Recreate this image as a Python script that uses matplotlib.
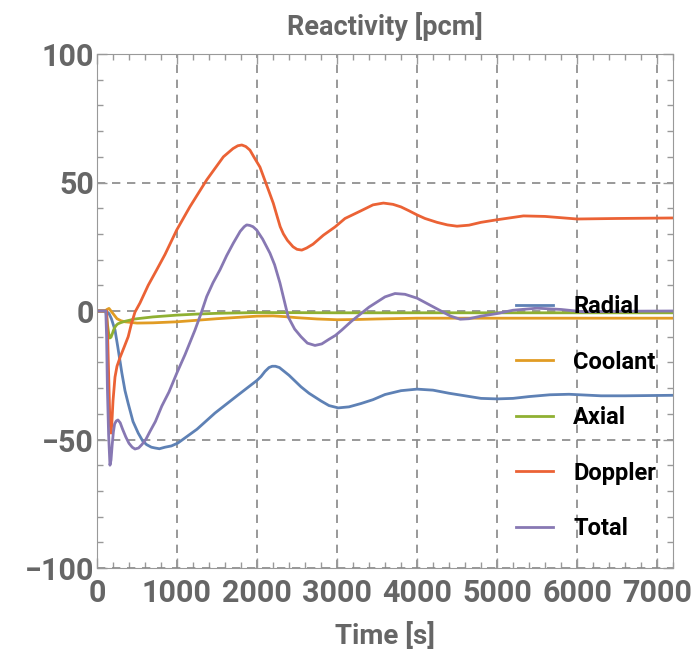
import numpy as np
import matplotlib.pyplot as plt
from matplotlib.ticker import MultipleLocator

# values (time in s, reactivity in pcm)
t_radial = [0, 100, 125, 150, 180, 225, 260, 310, 350, 390, 450, 515, 570, 620, 680, 725, 780,
            850, 930, 1010, 1250, 1475, 1750, 2000, 2050, 2100, 2150, 2190, 2230, 2280, 2320,
            2400, 2450, 2550, 2650, 2800, 2900, 3015, 3150, 3300, 3450, 3600, 3800, 4000,
            4200, 4400, 4600, 4800, 5000, 5200, 5400, 5660, 5900, 6300, 6600, 7200]
radial = [0, 0, -0.3, -1, -3, -7.4, -14, -24, -31, -36, -43, -47.5, -50.5, -52, -53, -53.3, -53.6,
          -53, -52.5, -51.4, -46, -39.7, -33, -27, -25.5, -23.5, -22, -21.5, -21.5, -22, -23,
          -25, -26.5, -29.5, -32, -35, -36.8, -37.7, -37.3, -36, -34.5, -32.5, -31, -30.4,
          -30.8, -32, -33, -34, -34.2, -34, -33.3, -32.6, -32.4, -33, -33, -32.8]

t_coolant = [0, 100, 125, 150, 175, 200, 250, 300, 350, 500, 700, 1000, 1250, 1500, 1750,
             2000, 2200, 2350, 2500, 2750, 3000, 3250, 3500, 4000, 5000, 6000, 7200]
coolant = [0, 0, 0.6, 1, 0, -1, -3, -3.8, -4.2, -4.7, -4.6, -4.2, -3.6, -3, -2.5,
           -2, -1.9, -2.2, -2.6, -3.1, -3.4, -3.3, -3.1, -2.8, -2.8, -2.8, -2.8]

t_axial = [0, 110, 120, 130, 145, 160, 175, 190, 205, 220, 240, 260, 300, 350, 475, 700,
           1000, 1250, 1500, 2000, 3000, 5000, 7200]
axial = [0, 0, -2, -5, -8.5, -10.5, -10.2, -9, -7.6, -6.5, -5.6, -5, -4.5, -4, -3.1, -2.3,
         -1.6, -1.2, -0.9, -0.6, -0.7, -0.7, -0.7]

t_doppler = [0, 120, 135, 150, 160, 175, 185, 200, 225, 250, 290, 340, 390, 430, 475, 537,
             640, 746, 850, 996, 1162, 1371, 1480, 1580, 1700, 1760, 1810, 1860,
             1912, 1960, 2037, 2100, 2150, 2204, 2250, 2290, 2330, 2380, 2450, 2500, 2560, 2620,
             2700, 2830, 2975, 3100, 3300, 3450, 3580, 3700, 3800, 3900, 4000, 4100, 4250,
             4380, 4500, 4650, 4800, 5000, 5330, 5600, 6000, 6500, 7200]
doppler = [0, 0, -12, -30, -42, -47.5, -44, -35, -25.7, -21.5, -17.9, -14, -10, -5, -0.4, 3.1,
           10, 16, 22, 31.5, 40.6, 51, 55.7, 60, 63.2, 64.3, 64.6, 64,
           62.6, 60, 56, 50.7, 46.5, 41.9, 37, 32.8, 30, 27.5, 25, 24, 23.7, 24.5,
           26, 29.5, 32.7, 36, 39, 41.3, 42, 41.5, 40.5, 39, 37.4, 36, 34.5,
           33.5, 33, 33.4, 34.5, 35.5, 37, 36.8, 35.8, 36, 36.2]

t_total = [0, 110, 120, 130, 145, 162, 175, 190, 205, 220, 240, 262, 290, 320, 360, 400, 440,
           475, 520, 560, 610, 660, 730, 810, 900, 1000, 1100, 1225, 1300, 1371, 1450, 1537,
           1620, 1704, 1790, 1840, 1871, 1910, 1950, 1996, 2070, 2162, 2220, 2287,
           2390, 2470, 2550, 2630, 2725, 2810, 2900, 2980, 3060, 3180, 3300, 3400, 3500,
           3600, 3725, 3850, 4000, 4150, 4300, 4420, 4540, 4650, 4800, 5000, 5200, 5500,
           5800, 6080, 6500, 7200]
total = [0, 0, -10, -30, -48, -60, -58, -52, -47, -44, -42.8, -42.4, -43.5, -46, -49, -51.5, -53,
         -53.7, -53.3, -52, -50, -47, -43, -37, -31.5, -24, -17, -7.4, -1, 5.6, 11, 16,
         21.5, 26.4, 31, 32.8, 33.5, 33.3, 32.8, 31.5, 28, 22.5, 18, 10.9,
         -2.3, -7, -10, -12.5, -13.4, -12.8, -11, -9.5, -7.4, -4, -1, 1.5, 3.5,
         5.5, 6.8, 6.5, 5, 2.5, 0, -2, -3.2, -3, -2, -1, 0.3, 1.1,
         0.6, -0.3, -0.1, 0]

plt.rcParams['font.family'] = ['Roboto', 'DejaVu Sans']
grey = '#666666'

fig = plt.figure(figsize=(6.94, 6.49), dpi=100)
ax = fig.add_axes([97/694, 1-568/649, (673-97)/694, (568-54)/649])

ax.plot(t_radial, radial, color='#5E81B5', lw=2, label='Radial')
ax.plot(t_coolant, coolant, color='#E19C24', lw=2, label='Coolant')
ax.plot(t_axial, axial, color='#8FB032', lw=2, label='Axial')
ax.plot(t_doppler, doppler, color='#EB6235', lw=2, label='Doppler')
ax.plot(t_total, total, color='#8778B3', lw=2, label='Total')

ax.set_xlim(0, 7200)
ax.set_ylim(-100, 100)
ax.xaxis.set_major_locator(MultipleLocator(1000))
ax.xaxis.set_minor_locator(MultipleLocator(200))
ax.yaxis.set_major_locator(MultipleLocator(50))
ax.yaxis.set_minor_locator(MultipleLocator(10))
ax.tick_params(which='both', direction='in', top=True, right=True, color='#999999',
               labelsize=22, labelcolor=grey, width=1)
ax.tick_params(which='major', length=7)
ax.tick_params(which='minor', length=4)
ax.tick_params(axis='y', which='major', pad=2)
ax.tick_params(axis='x', which='major', pad=7)
for lab in ax.get_xticklabels() + ax.get_yticklabels():
    lab.set_fontweight('bold')
for s in ax.spines.values():
    s.set_color('#999999')
ax.grid(True, which='major', color='#888888', ls=(0, (5, 4)), lw=1.2)
ax.set_axisbelow(True)

ax.set_title('Reactivity [pcm]', fontsize=19.5, fontweight='bold', color=grey, pad=14)
ax.set_xlabel('Time [s]', fontsize=20, fontweight='bold', color=grey, labelpad=10)

leg = ax.legend(loc='upper left', bbox_to_anchor=(516/694, 1-295/649), bbox_transform=fig.transFigure,
                frameon=False, fontsize=17, handlelength=1.57, handletextpad=0.85,
                labelspacing=1.38, borderpad=0, borderaxespad=0)
for txt in leg.get_texts():
    txt.set_fontweight('bold')
    txt.set_color('black')

fig.savefig('out.png', dpi=100)
